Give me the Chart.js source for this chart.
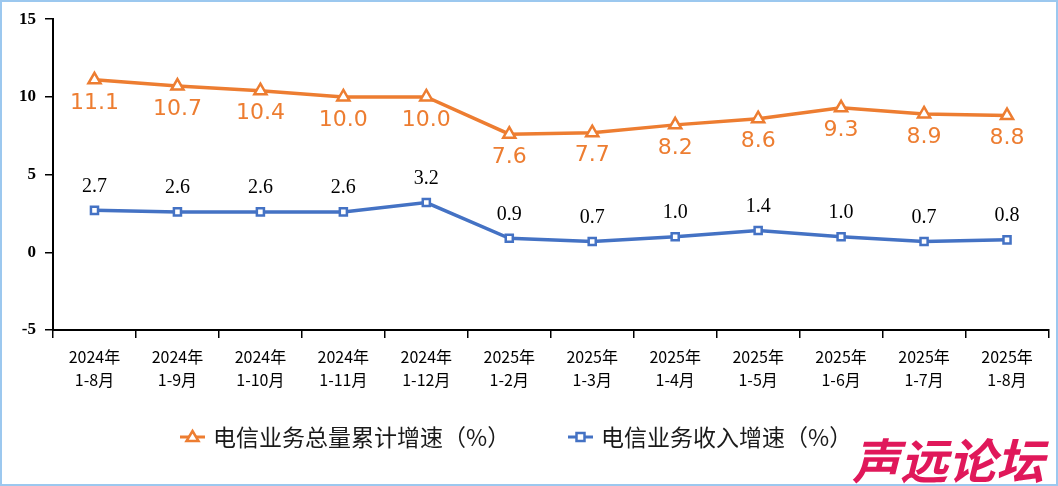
<!DOCTYPE html>
<html>
<head>
<meta charset="utf-8">
<script src="https://cdn.jsdelivr.net/npm/chart.js@4"></script>
<style>
  html, body { margin: 0; padding: 0; background: #fff; }
  #wrap { position: relative; width: 1058px; height: 486px; box-sizing: border-box; border: 2px solid #9cc8ef; }
  canvas { position: absolute; left: -2px; top: -2px; }
</style>
</head>
<body>
<div id="wrap"><canvas id="c" width="1058" height="486"></canvas></div>
<script>
'use strict';

// ─── Data ─────────────────────────────────────────────────────────────────────
const categories = [
  ['2024年', '1-8月'], ['2024年', '1-9月'], ['2024年', '1-10月'], ['2024年', '1-11月'],
  ['2024年', '1-12月'], ['2025年', '1-2月'], ['2025年', '1-3月'], ['2025年', '1-4月'],
  ['2025年', '1-5月'], ['2025年', '1-6月'], ['2025年', '1-7月'], ['2025年', '1-8月'],
];
const totalVolumeGrowth = [11.1, 10.7, 10.4, 10.0, 10.0, 7.6, 7.7, 8.2, 8.6, 9.3, 8.9, 8.8];
const revenueGrowth     = [2.7, 2.6, 2.6, 2.6, 3.2, 0.9, 0.7, 1.0, 1.4, 1.0, 0.7, 0.8];
const yTicks            = [-5, 0, 5, 10, 15];
const seriesNames       = ['电信业务总量累计增速（%）', '电信业务收入增速（%）'];

const ORANGE = '#ED7D31';
const BLUE   = '#4472C4';

// ─── Plugins ──────────────────────────────────────────────────────────────────
// value labels: orange below the points, black above the blue ones
const valueLabels = {
  id: 'valueLabels',
  afterDatasetsDraw(chart) {
    const ctx = chart.ctx;
    ctx.save();
    ctx.textAlign = 'center';
    ctx.textBaseline = 'middle';
    chart.getDatasetMeta(0).data.forEach((p, i) => {
      ctx.fillStyle = ORANGE;
      ctx.font = '22px "DejaVu Sans"';
      ctx.fillText(totalVolumeGrowth[i].toFixed(1), p.x, p.y + 23);
    });
    chart.getDatasetMeta(1).data.forEach((p, i) => {
      ctx.fillStyle = '#000';
      ctx.font = '20px "Liberation Serif"';
      ctx.fillText(revenueGrowth[i].toFixed(1), p.x, p.y - 24);
    });
    ctx.restore();
  },
};

// legend drawn by hand: line + marker + text
const bottomLegend = {
  id: 'bottomLegend',
  afterDraw(chart) {
    const ctx = chart.ctx;
    const y = 437;
    const items = [
      { x: 180, color: ORANGE, shape: 'triangle', text: seriesNames[0] },
      { x: 568, color: BLUE,   shape: 'rect',     text: seriesNames[1] },
    ];
    ctx.save();
    items.forEach((it) => {
      ctx.strokeStyle = it.color;
      ctx.lineWidth = 3;
      ctx.beginPath();
      ctx.moveTo(it.x, y); ctx.lineTo(it.x + 25, y);
      ctx.stroke();
      const cx = it.x + 12.5;
      ctx.fillStyle = '#fff';
      ctx.lineWidth = 2.5;
      ctx.beginPath();
      if (it.shape === 'triangle') {
        ctx.moveTo(cx, y - 6); ctx.lineTo(cx + 6, y + 4); ctx.lineTo(cx - 6, y + 4); ctx.closePath();
      } else {
        ctx.rect(cx - 4, y - 4, 8, 8);
      }
      ctx.fill(); ctx.stroke();
      ctx.fillStyle = '#1a1a1a';
      ctx.font = '23px "Noto Sans CJK SC"';
      ctx.textAlign = 'left';
      ctx.textBaseline = 'middle';
      ctx.fillText(it.text, it.x + 33, y);
    });

    // watermark
    ctx.fillStyle = '#E0185A';
    ctx.font = 'italic bold 48px "Noto Sans CJK SC"';
    ctx.textAlign = 'left';
    ctx.textBaseline = 'middle';
    ctx.fillText('声远论坛', 852, 461);
    ctx.restore();
  },
};

// ─── Chart ────────────────────────────────────────────────────────────────────
new Chart(document.getElementById('c'), {
  type: 'line',
  data: {
    labels: categories,
    datasets: [
      {
        label: seriesNames[0], data: totalVolumeGrowth,
        borderColor: ORANGE, borderWidth: 3.5,
        pointStyle: 'triangle', pointRadius: 7, pointBorderWidth: 2.5,
        pointBackgroundColor: '#fff', pointBorderColor: ORANGE,
        tension: 0,
      },
      {
        label: seriesNames[1], data: revenueGrowth,
        borderColor: BLUE, borderWidth: 3.5,
        pointStyle: 'rect', pointRadius: 5, pointBorderWidth: 2.5,
        pointBackgroundColor: '#fff', pointBorderColor: BLUE,
        tension: 0,
      },
    ],
  },
  options: {
    responsive: false,
    animation: false,
    layout: { padding: { top: 18, right: 8, left: 0, bottom: 0 } },
    plugins: { legend: { display: false }, tooltip: { enabled: false } },
    scales: {
      x: {
        offset: true,
        grid: { offset: true, drawOnChartArea: false, drawTicks: true, tickLength: 8, color: '#000', lineWidth: 1.5 },
        border: { display: true, color: '#000', width: 2 },
        ticks: { color: '#000', font: { family: '"Noto Sans CJK SC"', size: 16, lineHeight: 1.4 }, padding: 8, maxRotation: 0, autoSkip: false },
        afterFit: (s) => { s.height = 156; },
      },
      y: {
        min: -5, max: 15,
        afterBuildTicks: (s) => { s.ticks = yTicks.map((v) => ({ value: v })); },
        grid: { drawOnChartArea: false, drawTicks: true, tickLength: 8, color: '#000', lineWidth: 1.5 },
        border: { display: true, color: '#000', width: 2 },
        ticks: { color: '#000', font: { family: '"Liberation Serif"', size: 17, weight: 'bold' }, padding: 9 },
        afterFit: (s) => { s.width = 53; },
      },
    },
  },
  plugins: [valueLabels, bottomLegend],
});
</script>
</body>
</html>
